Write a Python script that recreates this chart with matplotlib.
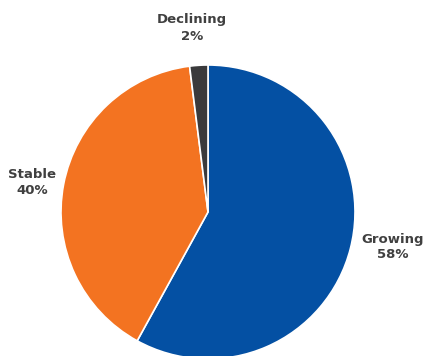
import matplotlib.pyplot as plt

categories = ["Growing", "Stable", "Declining"]
shares = [58, 40, 2]
colors = ["#0450A3", "#F37321", "#3A3A3C"]

fig = plt.figure(figsize=(4.25, 3.56), dpi=100)
ax = fig.add_axes([0, 0, 1, 1])

ax.pie(shares, colors=colors, startangle=90, counterclock=False,
       center=(208, 144), radius=147, frame=True,
       wedgeprops=dict(edgecolor="white", linewidth=1.2))
ax.set_xlim(0, 425)
ax.set_ylim(0, 356)
ax.set_aspect("equal")
ax.axis("off")

# label positions in figure pixels (x, y from top)
label_pos = [(393, 247), (32, 182), (192, 28)]
for name, val, (x, y) in zip(categories, shares, label_pos):
    ax.text(x, 356 - y, f"{name}\n{val}%", ha="center", va="center",
            fontsize=9.5, fontweight="bold", family="DejaVu Sans",
            color="#404040", linespacing=1.3)

fig.savefig("out.png", dpi=100)
